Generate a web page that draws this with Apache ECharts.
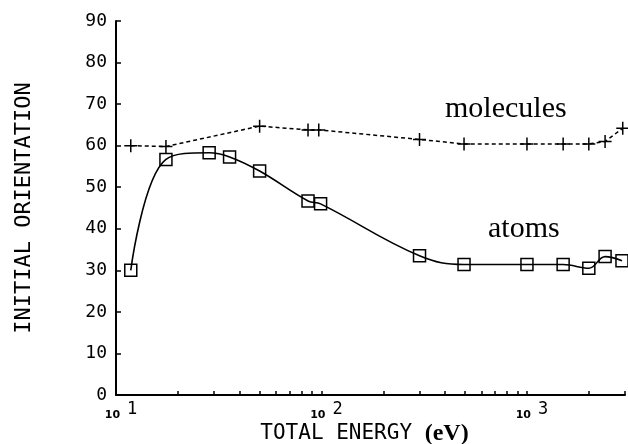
<!DOCTYPE html>
<html><head><meta charset="utf-8">
<script src="https://cdn.jsdelivr.net/npm/echarts@6/dist/echarts.min.js"></script>
<style>html,body{margin:0;padding:0;background:#fff}#c{width:628px;height:444px}</style>
</head><body><div id="c"></div>
<script>
const atomsX = [11.8, 17.5, 28.4, 35.7, 50, 86, 99, 300, 494, 1000, 1500, 2000, 2400, 2900];
const atomsY = [30, 56.7, 58.3, 57.3, 53.9, 46.7, 46, 33.5, 31.4, 31.4, 31.4, 30.5, 33.3, 32.3];
const molX = [11.8, 17.5, 50, 86, 97, 300, 494, 1000, 1500, 2000, 2400, 2925];
const molY = [60, 59.8, 64.7, 63.8, 63.8, 61.5, 60.4, 60.4, 60.4, 60.4, 61, 64.2];
const xMajorTicks = [10, 100, 1000];
const xMinorTicks = [20,30,40,50,60,70,80,90,200,300,400,500,600,700,800,900,2000,3000];
const yTicks = [0,10,20,30,40,50,60,70,80,90];

const chart = echarts.init(document.getElementById('c'), null, {renderer:'canvas'});
const mono = 'DejaVu Sans Mono';
const plus = 'path://M0,5L10,5M5,0L5,10';
chart.setOption({
  animation:false,
  backgroundColor:'#fff',
  grid:{left:116, right:3, top:21, bottom:49, containLabel:false, outerBoundsMode:'none'},
  xAxis:{
    type:'log', logBase:10, min:10, max:3000,
    axisLine:{show:true, lineStyle:{color:'#000', width:2}},
    axisTick:{show:true, inside:true, length:4, lineStyle:{color:'#000', width:1.5},
      customValues: xMajorTicks.concat(xMinorTicks)},
    minorTick:{show:false},
    splitLine:{show:false},
    axisLabel:{
      customValues: xMajorTicks,
      margin:6,
      formatter: v => '{a|10}{b|' + Math.round(Math.log10(v)) + '}',
      rich:{
        a:{fontFamily:'DejaVu Sans', fontWeight:'bold', fontSize:11, color:'#000', verticalAlign:'bottom', padding:[0,7,0,10]},
        b:{fontFamily:mono, fontSize:17, color:'#000', verticalAlign:'bottom', padding:[0,0,3,0]}
      }
    },
    name:'{t|TOTAL ENERGY }{u|(eV)}',
    nameLocation:'middle', nameGap:27, nameMoveOverlap:false,
    nameTextStyle:{
      rich:{
        t:{fontFamily:mono, fontSize:21, color:'#000'},
        u:{fontFamily:'Liberation Serif', fontWeight:'bold', fontSize:24, color:'#000', padding:[0,12,0,0]}
      }
    }
  },
  yAxis:{
    type:'value', min:0, max:90, interval:10,
    axisLine:{show:true, lineStyle:{color:'#000', width:2}},
    axisTick:{show:true, inside:true, length:5, lineStyle:{color:'#000', width:1.5}},
    splitLine:{show:false},
    axisLabel:{fontFamily:mono, fontSize:18, color:'#000', margin:9},
    name:'INITIAL ORIENTATION',
    nameLocation:'middle', nameGap:81, nameRotate:90, nameMoveOverlap:false,
    nameTextStyle:{fontFamily:mono, fontSize:22, color:'#000'}
  },
  series:[
    {
      type:'line', name:'molecules',
      data: molX.map((x,i)=>[x, molY[i]]),
      symbol:plus, symbolSize:13,
      itemStyle:{color:'rgba(0,0,0,0)', borderColor:'#000', borderWidth:1.5},
      lineStyle:{color:'#000', width:1.5, type:[4,3]},
      z:3
    },
    {
      type:'line', name:'atoms',
      data: atomsX.map((x,i)=>[x, atomsY[i]]),
      smooth:0.4,
      symbol:'rect', symbolSize:12,
      itemStyle:{color:'rgba(0,0,0,0)', borderColor:'#000', borderWidth:1.5},
      lineStyle:{color:'#000', width:1.6},
      z:4
    }
  ],
  graphic:[
    {type:'text', left:445, top:94, style:{text:'molecules', font:'30px "Liberation Serif"', fill:'#000'}},
    {type:'text', left:488, top:214, style:{text:'atoms', font:'30px "Liberation Serif"', fill:'#000'}}
  ]
});
</script></body></html>
